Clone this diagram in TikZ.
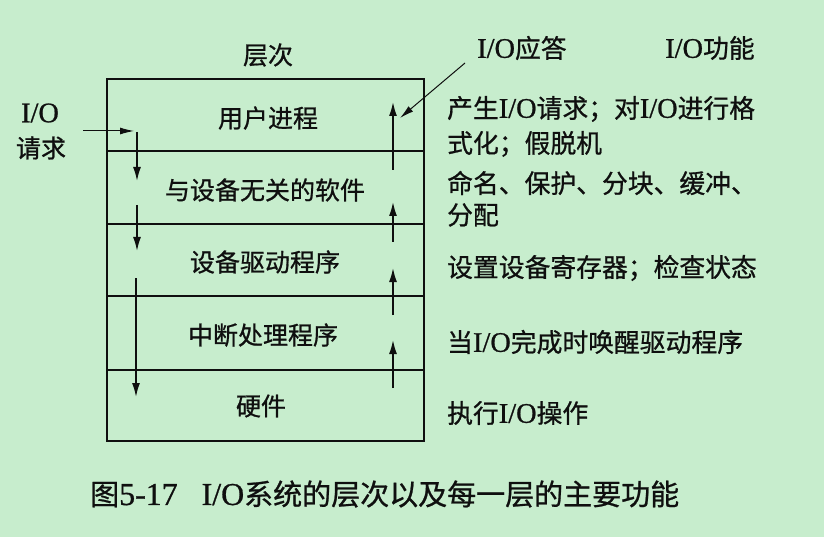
\documentclass[tikz,border=0pt]{standalone}
\usepackage{fontspec}
\setmainfont{Liberation Serif}[Scale=1.1,FakeBold=0.8]
\newfontfamily\cjk{Noto Sans CJK SC}[FakeBold=0.8]
\usetikzlibrary{arrows.meta}
\definecolor{bgcol}{RGB}{199,237,205}
\definecolor{ink}{RGB}{15,15,15}
\begin{document}
\begin{tikzpicture}[x=1pt,y=-1pt,
  boxline/.style={draw=ink, line width=2.2pt},
  sepline/.style={draw=ink, line width=2pt},
  arr/.style={draw=ink, line width=1.6pt, -{Latex[length=14pt,width=8pt]}},
  thinarr/.style={draw=ink, line width=1pt, -{Latex[length=14pt,width=7pt]}},
  layer/.style={inner sep=0pt, text=ink, font=\cjk\fontsize{25}{30}\selectfont},
  func/.style={inner sep=0pt, anchor=west, text=ink, font=\fontsize{25.8}{30}\selectfont},
  captext/.style={inner sep=0pt, anchor=west, text=ink, font=\fontsize{29}{34}\selectfont}]
\fill[bgcol] (0,0) rectangle (824,537);
\useasboundingbox (0,0) rectangle (824,537);

% stack of layers
\draw[boxline] (107,79) rectangle (424,441);
\draw[sepline] (107,151) -- (424,151);
\draw[sepline] (107,224) -- (424,224);
\draw[sepline] (107,296) -- (424,296);
\draw[sepline] (107,370) -- (424,370);

\node[layer] (head) at (268,55) {层次};
\node[layer] (l1) at (268,118) {用户进程};
\node[layer] (l2) at (265,190) {与设备无关的软件};
\node[layer] (l3) at (265,262) {设备驱动程序};
\node[layer] (l4) at (263,335) {中断处理程序};
\node[layer] (l5) at (261,406) {硬件};

% request side
\node[func, anchor=center] (req1) at (40,113) {I/O};
\node[layer] (req2) at (41,148) {请求};
\coordinate (inS) at (83,131);
\coordinate (inE) at (134,131);
\draw[thinarr] (inS) -- (inE);

\coordinate (d1s) at (137,132); \coordinate (d1e) at (137,181);
\coordinate (d2s) at (137,205); \coordinate (d2e) at (137,251);
\coordinate (d3s) at (136,278); \coordinate (d3e) at (136,397);
\draw[arr] (d1s) -- (d1e);
\draw[arr] (d2s) -- (d2e);
\draw[arr] (d3s) -- (d3e);

% response side
\coordinate (u1s) at (393,170); \coordinate (u1e) at (393,102);
\coordinate (u2s) at (393,242); \coordinate (u2e) at (393,202);
\coordinate (u3s) at (393,315); \coordinate (u3e) at (393,268);
\coordinate (u4s) at (393,388); \coordinate (u4e) at (393,340);
\draw[arr] (u1s) -- (u1e);
\draw[arr] (u2s) -- (u2e);
\draw[arr] (u3s) -- (u3e);
\draw[arr] (u4s) -- (u4e);

\node[func] (resp) at (477,48) {I/O{\cjk 应答}};
\coordinate (respS) at (465,63);
\coordinate (respE) at (400,118);
\draw[thinarr] (respS) -- (respE);

% functions
\node[func] (fhead) at (665,48) {I/O{\cjk 功能}};
\node[func] (f1a) at (447,109) {{\cjk 产生}I/O{\cjk 请求；对}I/O{\cjk 进行格}};
\node[func] (f1b) at (447,144) {{\cjk 式化；假脱机}};
\node[func] (f2a) at (447,183) {{\cjk 命名、保护、分块、缓冲、}};
\node[func] (f2b) at (447,215) {{\cjk 分配}};
\node[func] (f3) at (447,268) {{\cjk 设置设备寄存器；检查状态}};
\node[func] (f4) at (447,342) {{\cjk 当}I/O{\cjk 完成时唤醒驱动程序}};
\node[func] (f5) at (447,413) {{\cjk 执行}I/O{\cjk 操作}};

% caption
\node[captext] (caption) at (90,494) {{\cjk 图}5-17\hspace{24pt}I/O{\cjk 系统的层次以及每一层的主要功能}};
\end{tikzpicture}
\end{document}
